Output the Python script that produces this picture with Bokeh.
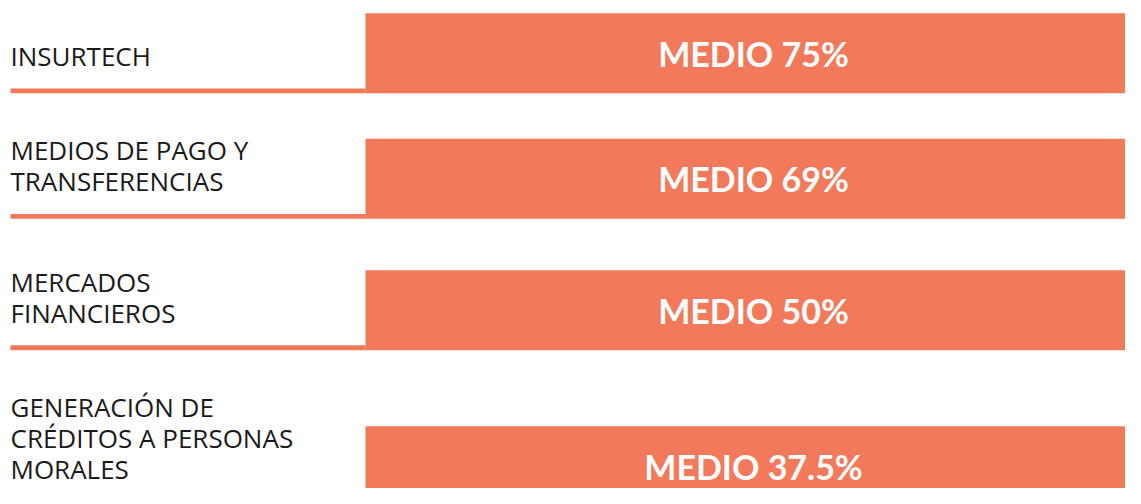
from bokeh.plotting import figure
from bokeh.models import Range1d, ColumnDataSource
from bokeh.embed import file_html
from bokeh.resources import INLINE
from bokeh.core.properties import value

# ---- data ----
categories = [
    "INSURTECH",
    "MEDIOS DE PAGO Y\nTRANSFERENCIAS",
    "MERCADOS\nFINANCIEROS",
    "GENERACIÓN DE\nCRÉDITOS A PERSONAS\nMORALES",
]
levels = ["MEDIO", "MEDIO", "MEDIO", "MEDIO"]
percents = [75, 69, 50, 37.5]

# ---- layout (pixel-like coordinates of the reference canvas) ----
ROW_TOP = [13, 140, 273, 431]
BAR_H = 81
BAR_LEFT, BAR_RIGHT = 365, 1160
LINE_LEFT = 10
LINE_W = 5
LABEL_GAP = 28.5
LINE_STEP = 31.5
CAP_HALF = 9.5
COLOR = "#F27A5A"

W, H = 1125, 488
p = figure(width=W, height=H, x_range=Range1d(0, W), y_range=Range1d(494, 0),
           output_backend="svg", toolbar_location=None, min_border=0,
           x_axis_type=None, y_axis_type=None)
p.grid.visible = False
p.outline_line_color = None
p.background_fill_color = "white"
p.border_fill_color = "white"

tops = ROW_TOP
bottoms = [t + BAR_H for t in tops]
bars = ColumnDataSource(dict(
    top=tops, bottom=bottoms,
    left=[BAR_LEFT] * len(tops), right=[BAR_RIGHT] * len(tops),
    txt=[f"{l} {v:g}%" for l, v in zip(levels, percents)],
    cx=[(BAR_LEFT + 1141) / 2] * len(tops),
    cy=[(t + b) / 2 for t, b in zip(tops, bottoms)],
))
p.quad(top="top", bottom="bottom", left="left", right="right", source=bars,
       fill_color=COLOR, line_color=None)
# underline
p.quad(top=[b - LINE_W for b in bottoms], bottom=bottoms,
       left=[LINE_LEFT] * len(tops), right=[BAR_LEFT] * len(tops),
       fill_color=COLOR, line_color=None)
p.text(x="cx", y="cy", text="txt", source=bars, text_color="white",
       text_font=value("Lato"), text_font_style="bold", text_font_size="34px",
       text_align="center", text_baseline="middle")

# category labels, one glyph row per line
lx, ly, lt = [], [], []
for cat, b in zip(categories, bottoms):
    lines = cat.split("\n")
    n = len(lines)
    for i, s in enumerate(lines):
        lx.append(LINE_LEFT)
        ly.append(b - LABEL_GAP - (n - 1 - i) * LINE_STEP - CAP_HALF)
        lt.append(s)
p.text(x=lx, y=ly, text=lt, text_color="#1a1a1a", text_font=value("Open Sans"),
       text_font_size="26px", text_align="left", text_baseline="middle")

open("out.html", "w").write(file_html(p, INLINE))
